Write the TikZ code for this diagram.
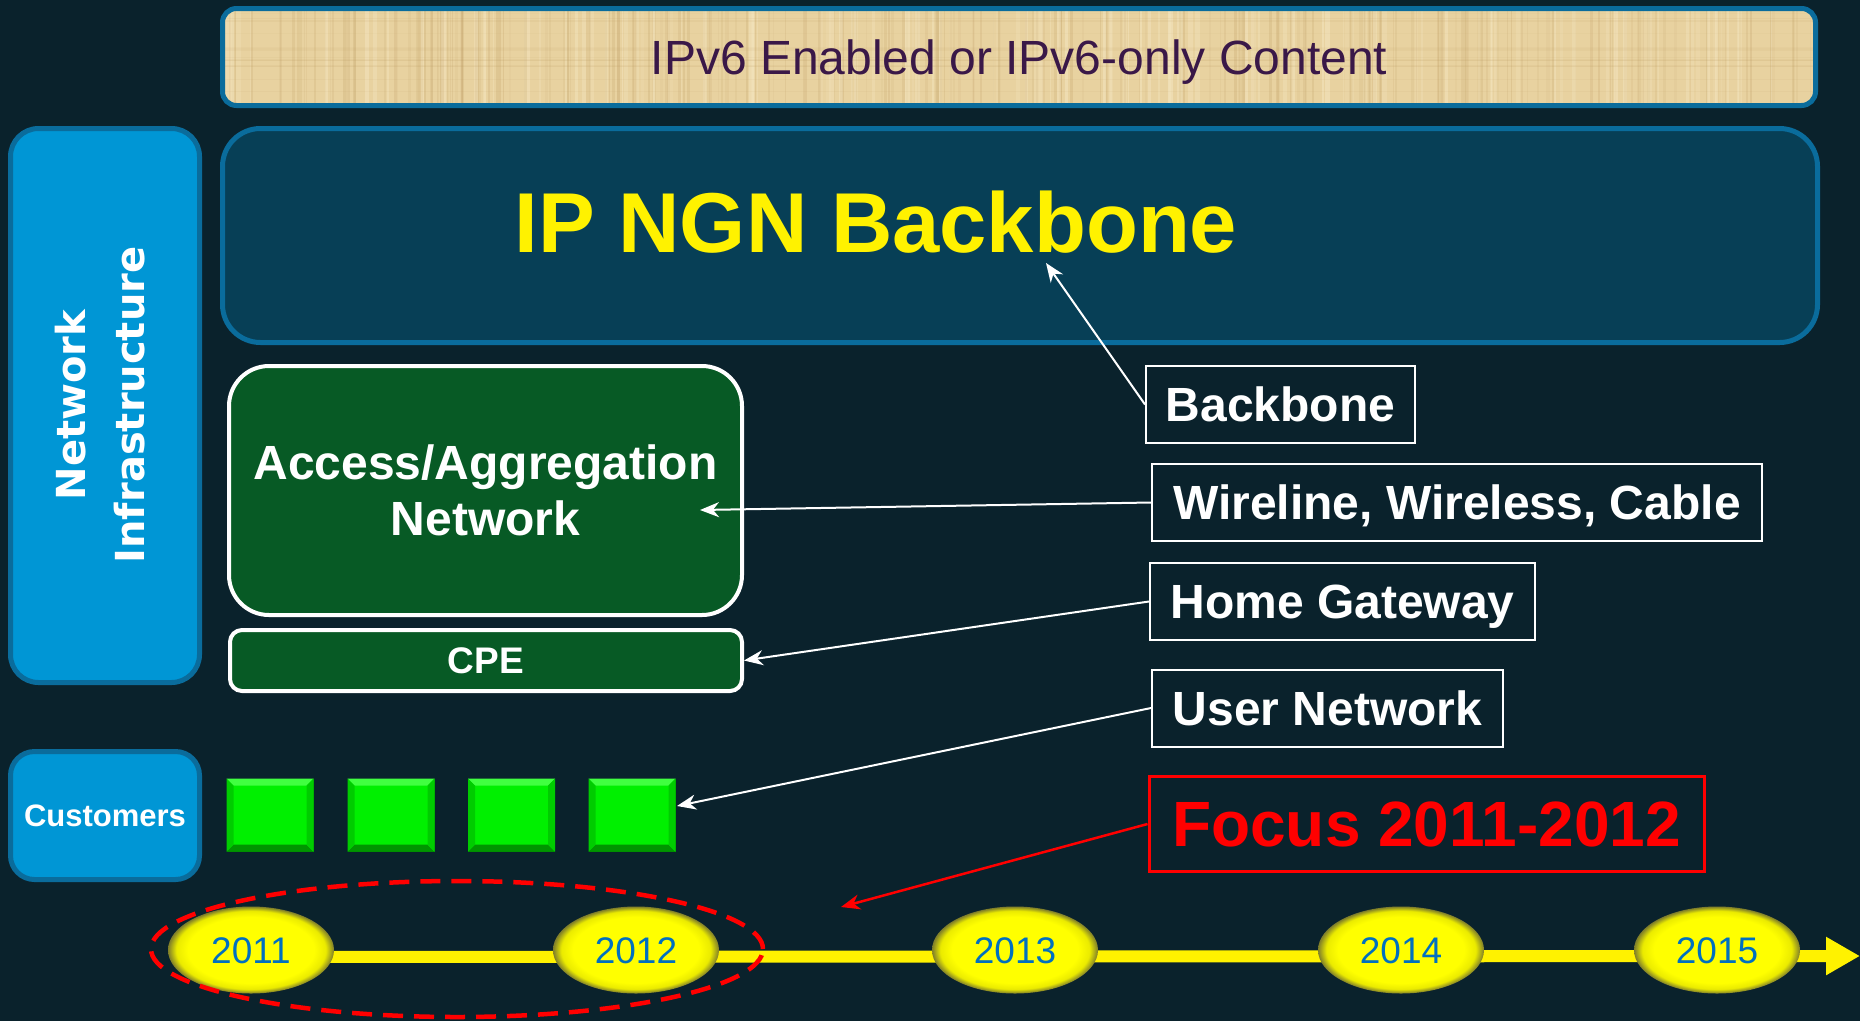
\documentclass[tikz,border=0pt]{standalone}
\usepackage{fontspec}
\setmainfont{Liberation Sans}
\newfontfamily\widefont{DejaVu Sans}
\usetikzlibrary{shapes.geometric,arrows.meta,calc}

\definecolor{bgdark}{HTML}{0A222C}
\definecolor{rimblue}{HTML}{0A6C9C}
\definecolor{coreblue}{HTML}{073F56}
\definecolor{sideblue}{HTML}{0096D5}
\definecolor{netgreen}{HTML}{075A25}
\definecolor{custgreen}{HTML}{00F000}
\definecolor{contentpurple}{HTML}{3A1848}
\definecolor{papyrus}{HTML}{E8D2A0}
\definecolor{papyrusdark}{HTML}{B8955A}
\definecolor{papyruslight}{HTML}{F6E8C4}
\definecolor{yearyellow}{HTML}{FFFF00}
\definecolor{yearedge}{HTML}{7E7D2A}
\definecolor{yearblue}{HTML}{0070C0}

\pgfdeclareradialshading{yearball}{\pgfpoint{0bp}{0bp}}{%
  color(0bp)=(yearyellow); color(19bp)=(yearyellow);
  color(22.5bp)=(yearyellow!92!black); color(25bp)=(yearedge);
  color(50bp)=(yearedge)}

\tikzset{
  rim/.style={draw=rimblue, line width=5pt},
  contentbox/.style={rim, rounded corners=14pt, minimum width=1593pt,
    minimum height=97pt, inner sep=0pt, text=contentpurple,
    font=\fontsize{48}{56}\selectfont, text height=34.4pt, text depth=0pt},
  corebox/.style={rim, fill=coreblue, rounded corners=38pt,
    minimum width=1595pt, minimum height=214pt, inner sep=0pt},
  sidebox/.style={rim, fill=sideblue, minimum width=189pt, inner sep=0pt,
    text=white},
  greenbox/.style={draw=white, line width=4pt, fill=netgreen, text=white,
    inner sep=0pt, align=center},
  callout/.style={draw=white, line width=2pt, fill=bgdark, text=white,
    font=\bfseries\fontsize{48}{56}\selectfont, minimum height=77pt,
    text height=34.4pt, text depth=0pt, inner sep=0pt},
  pointer/.style={draw=white, line width=2pt,
    -{Stealth[length=19pt,width=15pt,inset=6pt]}},
  year/.style={ellipse, shade, shading=yearball, minimum width=166pt,
    minimum height=87pt, inner sep=0pt, text=yearblue,
    font=\fontsize{37}{40}\selectfont, text height=26.5pt, text depth=0pt},
  custsq/.style={rectangle, fill=custgreen, draw=custgreen!55!black,
    line width=1pt, minimum width=86pt, minimum height=72pt, inner sep=0pt},
}

\begin{document}
\begin{tikzpicture}[x=1pt, y=-1pt]
\useasboundingbox (0,0) rectangle (1860,1021);
\fill[bgdark] (0,0) rectangle (1860,1021);

% papyrus texture behind the content banner
\begin{scope}
  \clip[rounded corners=14pt] (222.5,8.5) rectangle (1815.5,105.5);
  \fill[papyrus] (220,6) rectangle (1818,108);
  \pgfmathsetseed{7}
  \foreach \i in {1,...,240}{
    \pgfmathsetmacro\xx{220+1598*rnd}
    \pgfmathsetmacro\op{0.05+0.16*rnd}
    \pgfmathsetmacro\lw{0.8+2.5*rnd}
    \draw[papyrusdark, opacity=\op, line width=\lw pt] (\xx,6) -- (\xx,108);
  }
  \foreach \i in {1,...,120}{
    \pgfmathsetmacro\xx{220+1598*rnd}
    \pgfmathsetmacro\op{0.15+0.35*rnd}
    \pgfmathsetmacro\lw{1+4*rnd}
    \draw[papyruslight, opacity=\op, line width=\lw pt] (\xx,6) -- (\xx,108);
  }
  \foreach \i in {1,...,18}{
    \pgfmathsetmacro\yy{6+102*rnd}
    \pgfmathsetmacro\op{0.03+0.07*rnd}
    \draw[papyrusdark, opacity=\op, line width=1pt] (220,\yy) -- (1818,\yy);
  }
\end{scope}
\node[contentbox] (content) at (1019,57) {IPv6 Enabled or IPv6-only Content};

% backbone layer
\node[corebox] (core) at (1020,235.5) {};
\node[text=yellow, font=\bfseries\fontsize{85}{90}\selectfont, inner sep=0pt,
  text height=61pt, text depth=0pt] (ngn) at (876,222) {IP NGN Backbone};

% left-hand categories
\node[sidebox, rounded corners=28pt, minimum height=554pt] (infra) at (105,405.5) {};
\node[rotate=90, text=white, align=center, inner sep=0pt,
  font=\widefont\bfseries\fontsize{40}{59}\selectfont] (infratext) at (100.5,405)
  {Network\\Infrastructure};
\node[sidebox, rounded corners=24pt, minimum height=128pt,
  font=\bfseries\fontsize{31}{36}\selectfont, text height=22.2pt, text depth=0pt]
  (cust) at (105,815.5) {Customers};

% access network and CPE
\node[greenbox, rounded corners=40pt, minimum width=513pt, minimum height=249pt,
  font=\bfseries\fontsize{48}{56}\selectfont] (access) at (485.5,490.5)
  {Access/Aggregation\\Network};
\node[greenbox, rounded corners=12pt, minimum width=512pt, minimum height=61pt,
  font=\bfseries\fontsize{37}{40}\selectfont, text height=26.5pt, text depth=0pt]
  (cpe) at (486,660.5) {CPE};

% customer devices
\foreach \n/\cx in {1/270, 2/391, 3/511.5, 4/632}{
  \node[custsq] (c\n) at (\cx,815) {};
  \fill[green!75!white] (c\n.north west) -- (c\n.north east)
    -- ([xshift=-7pt,yshift=-7pt]c\n.north east)
    -- ([xshift=7pt,yshift=-7pt]c\n.north west) -- cycle;
  \fill[custgreen!62!black] (c\n.south west) -- (c\n.south east)
    -- ([xshift=-7pt,yshift=7pt]c\n.south east)
    -- ([xshift=7pt,yshift=7pt]c\n.south west) -- cycle;
  \fill[custgreen!85!black] (c\n.north west) -- ([xshift=7pt,yshift=-7pt]c\n.north west)
    -- ([xshift=7pt,yshift=7pt]c\n.south west) -- (c\n.south west) -- cycle;
  \fill[custgreen!85!black] (c\n.north east) -- ([xshift=-7pt,yshift=-7pt]c\n.north east)
    -- ([xshift=-7pt,yshift=7pt]c\n.south east) -- (c\n.south east) -- cycle;
}

% callouts
\node[callout, minimum width=269pt] (bbl) at (1280.5,404.5) {Backbone};
\node[callout, minimum width=610pt] (wwc) at (1457,502.5) {Wireline, Wireless, Cable};
\node[callout, minimum width=385pt] (hgw) at (1342.5,601.5) {Home Gateway};
\node[callout, minimum width=351pt] (unw) at (1327.5,708) {User Network};
\node[callout, draw=red, line width=3pt, text=red, minimum width=555pt,
  minimum height=95pt, font=\bfseries\fontsize{64}{70}\selectfont,
  text height=45.8pt] (focus) at (1426.5,824) {Focus 2011-2012};

\coordinate (bbtip) at (1046,263);
\coordinate (awtip) at (700,510);
\coordinate (untip) at (677,806);
\coordinate (fotip) at (841,907);

\draw[pointer] (bbl.west) -- (bbtip);
\draw[pointer] (wwc.west) -- (awtip);
\draw[pointer] (hgw.west) -- (cpe.east);
\draw[pointer] (unw.west) -- (untip);
\draw[pointer, draw=red, line width=2.5pt] (focus.west) -- (fotip);

% timeline
\coordinate (tlstart) at (251,957);
\coordinate (tlend) at (1860,956);
\draw[yellow, line width=12pt, -{Triangle[length=34pt,width=36pt]}] (tlstart) -- (tlend);
\node[year] (y2011) at (251,950) {2011};
\node[year] (y2012) at (636,950) {2012};
\node[year] (y2013) at (1015,950) {2013};
\node[year] (y2014) at (1401,950) {2014};
\node[year] (y2015) at (1717,950) {2015};

\node[ellipse, draw=red, line width=4.5pt, dash pattern=on 20pt off 11pt,
  minimum width=612pt, minimum height=136pt, inner sep=0pt] (focusring) at (457,949) {};
\end{tikzpicture}
\end{document}
